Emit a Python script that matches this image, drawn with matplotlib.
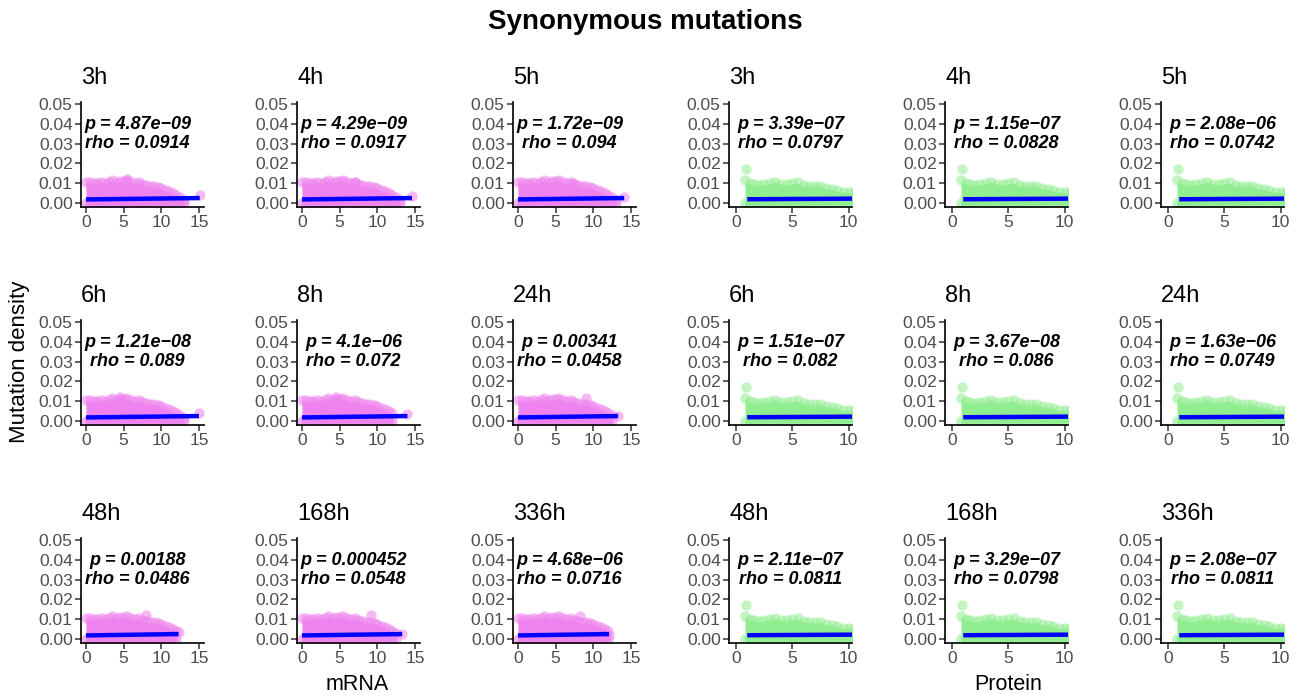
import matplotlib

matplotlib.use("Agg")
import matplotlib.pyplot as plt
import numpy as np

plt.rcParams["font.family"] = ["Liberation Sans", "DejaVu Sans"]

times = ["3h", "4h", "5h", "6h", "8h", "24h", "48h", "168h", "336h"]

mrna_p = ["4.87e−09", "4.29e−09", "1.72e−09", "1.21e−08", "4.1e−06",
          "0.00341", "0.00188", "0.000452", "4.68e−06"]
mrna_rho = ["0.0914", "0.0917", "0.094", "0.089", "0.072",
            "0.0458", "0.0486", "0.0548", "0.0716"]
prot_p = ["3.39e−07", "1.15e−07", "2.08e−06", "1.51e−07", "3.67e−08",
          "1.63e−06", "2.11e−07", "3.29e−07", "2.08e−07"]
prot_rho = ["0.0797", "0.0828", "0.0742", "0.082", "0.086",
            "0.0749", "0.0811", "0.0798", "0.0811"]

# upper edge of the dense point cloud
mrna_env_x = [0, 0.5, 1, 1.5, 2, 2.5, 3, 3.5, 4, 4.5, 5, 5.5, 6, 6.5, 7,
              7.5, 8, 8.5, 9, 9.5, 10, 10.5, 11, 11.5, 12, 12.5, 13]
mrna_env_y = [0.0110, 0.0108, 0.0104, 0.0107, 0.0110, 0.0106, 0.0112, 0.0118,
              0.0110, 0.0113, 0.0116, 0.0118, 0.0110, 0.0104, 0.0108, 0.0098,
              0.0094, 0.0088, 0.0090, 0.0084, 0.0080, 0.0072, 0.0064, 0.0055,
              0.0045, 0.0034, 0.0020]
prot_env_x = [0.8, 1.2, 1.6, 2, 2.5, 3, 3.5, 4, 4.5, 5, 5.5, 6, 6.5, 7,
              7.5, 8, 8.5, 9, 9.5, 10, 10.4]
prot_env_y = [0.0118, 0.0105, 0.0098, 0.0095, 0.0100, 0.0104, 0.0112, 0.0102,
              0.0098, 0.0104, 0.0108, 0.0095, 0.0090, 0.0088, 0.0092, 0.0080,
              0.0075, 0.0068, 0.0062, 0.0058, 0.0055]

# right end of each mRNA cloud and its farthest point
mrna_cloud_end = [13.0, 13.0, 13.0, 13.2, 12.0, 12.6, 12.0, 12.8, 12.0]
mrna_last_x = [15.1, 14.6, 14.1, 15.0, 14.0, 13.3, 12.3, 13.3, 12.1]
mrna_last_y = [0.0038, 0.0035, 0.0030, 0.0040, 0.0035, 0.0025, 0.0035, 0.0025, 0.0020]
mrna_peak_x = [5.5, 7.0, 7.3, 4.5, 4.5, 9.0, 8.0, 9.2, 8.2]
mrna_peak_y = [0.0120, 0.0105, 0.0100, 0.0122, 0.0120, 0.0118, 0.0120, 0.0120, 0.0115]

prot_outlier = (0.9, 0.0172)
mrna_fit = (0.0018, 0.0025)
prot_fit = (0.0019, 0.0022)

fig = plt.figure(figsize=(12.99, 6.98), dpi=100)
W, H = 1299, 698
col_left = [81, 297, 513, 729, 945, 1161]
row_bottom = [207, 425, 643]
ax_w, ax_h = 123, 105

violet = "#EE82EE"
green = "#90EE90"


def draw_panel(ax, kind, i):
    if kind == "mrna":
        env_x, env_y = np.array(mrna_env_x), np.array(mrna_env_y)
        keep = env_x <= mrna_cloud_end[i]
        env_x, env_y = env_x[keep], env_y[keep]
        color = violet
        x0, x1 = 0, mrna_last_x[i]
        fy = mrna_fit
    else:
        env_x, env_y = np.array(prot_env_x), np.array(prot_env_y)
        color = green
        x0, x1 = 1.0, 10.5
        fy = prot_fit
    ax.fill_between(env_x, -0.0009, env_y - 0.0008, color=color, lw=0, zorder=1)
    ax.scatter(env_x, env_y - 0.0004, s=55, color=color, alpha=0.55, lw=0, zorder=1)
    ax.scatter(env_x, np.full(len(env_x), -0.0002), s=55, color=color, alpha=0.6,
               lw=0, zorder=1)
    if kind == "mrna":
        ax.scatter([mrna_last_x[i], mrna_peak_x[i]], [mrna_last_y[i], mrna_peak_y[i]],
                   s=55, color=color, alpha=0.55, lw=0, zorder=1)
    else:
        ax.scatter([prot_outlier[0]], [prot_outlier[1]], s=55, color=color,
                   alpha=0.55, lw=0, zorder=1)
    ax.plot([x0, x1], fy, color="#0000FF", lw=3.2, solid_capstyle="butt", zorder=3)


for r in range(3):
    for c in range(6):
        kind = "mrna" if c < 3 else "prot"
        i = r * 3 + (c % 3)
        ax = fig.add_axes([col_left[c] / W, 1 - row_bottom[r] / H, ax_w / W, ax_h / H])
        draw_panel(ax, kind, i)
        if kind == "mrna":
            ax.set_xlim(-0.66, 15.67)
            ax.set_xticks([0, 5, 10, 15])
            p, rho, tx = mrna_p[i], mrna_rho[i], 0.46
        else:
            ax.set_xlim(-0.62, 10.3)
            ax.set_xticks([0, 5, 10])
            p, rho, tx = prot_p[i], prot_rho[i], 0.50
        ax.set_ylim(-0.00202, 0.05101)
        ax.set_yticks([0, 0.01, 0.02, 0.03, 0.04, 0.05])
        ax.set_yticklabels(["0.00", "0.01", "0.02", "0.03", "0.04", "0.05"])
        for s in ["top", "right"]:
            ax.spines[s].set_visible(False)
        for s in ["left", "bottom"]:
            ax.spines[s].set_linewidth(1.2)
            ax.spines[s].set_color("black")
        ax.tick_params(labelsize=12.5, labelcolor="#4D4D4D", color="#333333",
                       length=4, width=1.1, pad=2)
        ax.text(tx, 0.0394, f"p = {p}", transform=ax.get_yaxis_transform(),
                ha="center", va="center", fontsize=13, fontweight="bold",
                fontstyle="italic", zorder=4)
        ax.text(tx, 0.0303, f"rho = {rho}", transform=ax.get_yaxis_transform(),
                ha="center", va="center", fontsize=13, fontweight="bold",
                fontstyle="italic", zorder=4)
        ax.text(0.0, 1.229, times[i], transform=ax.transAxes, ha="left",
                va="center", fontsize=17)

fig.text(645 / W, 1 - 22 / H, "Synonymous mutations", ha="center", va="center",
         fontsize=20, fontweight="bold")
fig.text(20 / W, 1 - 362 / H, "Mutation density", ha="center", va="center",
         rotation=90, fontsize=16)
fig.text(357 / W, 1 - 685 / H, "mRNA", ha="center", va="center", fontsize=15.5)
fig.text(1008 / W, 1 - 685 / H, "Protein", ha="center", va="center", fontsize=15.5)

fig.savefig("out.png", dpi=100)
plt.close(fig)
